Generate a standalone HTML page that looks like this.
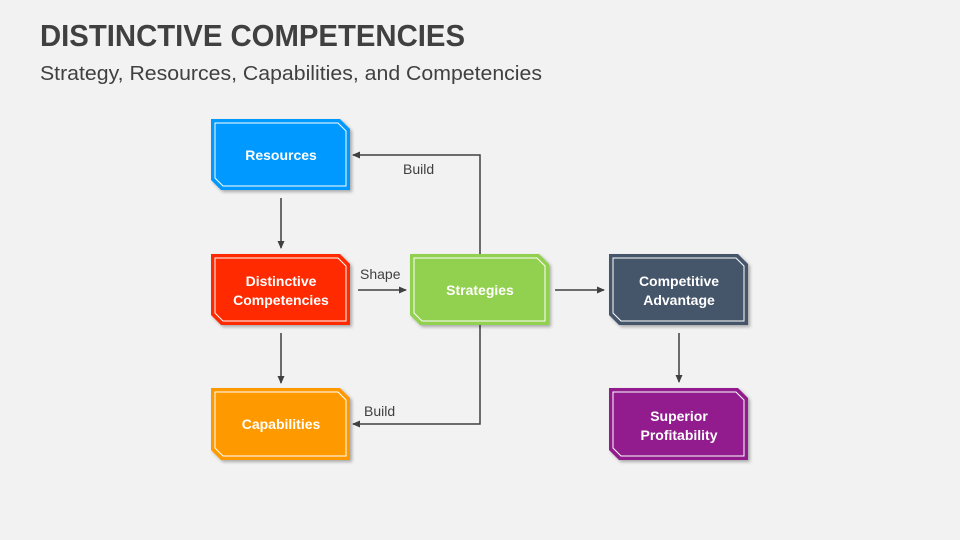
<!DOCTYPE html>
<html><head><meta charset="utf-8"><style>
html,body{margin:0;padding:0;background:#f2f2f2;}
svg{display:block;font-family:"Liberation Sans",sans-serif;}
</style></head><body>
<svg width="960" height="540" viewBox="0 0 960 540" xmlns="http://www.w3.org/2000/svg">
<defs>
<marker id="a" markerWidth="8" markerHeight="8" refX="7" refY="4" orient="auto" markerUnits="userSpaceOnUse"><path d="M0,0.5 L8,4 L0,7.5 Z" fill="#404040"/></marker>
<filter id="s" x="-10%" y="-10%" width="130%" height="130%"><feDropShadow dx="2" dy="2" stdDeviation="1.5" flood-color="#000" flood-opacity="0.3"/></filter>
</defs>
<rect width="960" height="540" fill="#f2f2f2"/>
<text x="40" y="46" font-size="31" font-weight="bold" fill="#404040" textLength="425" lengthAdjust="spacingAndGlyphs">DISTINCTIVE COMPETENCIES</text>
<text x="40" y="80" font-size="20" fill="#404040" textLength="502" lengthAdjust="spacingAndGlyphs">Strategy, Resources, Capabilities, and Competencies</text>

<g stroke="#404040" stroke-width="1.5" fill="none">
<line x1="281" y1="198" x2="281" y2="248" marker-end="url(#a)"/>
<line x1="281" y1="333" x2="281" y2="383" marker-end="url(#a)"/>
<line x1="358" y1="290" x2="406" y2="290" marker-end="url(#a)"/>
<line x1="555" y1="290" x2="604" y2="290" marker-end="url(#a)"/>
<line x1="679" y1="333" x2="679" y2="382" marker-end="url(#a)"/>
<polyline points="480,254 480,155 353,155" marker-end="url(#a)"/>
<polyline points="480,325 480,424 353,424" marker-end="url(#a)"/>
</g>
<g font-size="14" fill="#404040">
<text x="403" y="174">Build</text>
<text x="360" y="279">Shape</text>
<text x="364" y="416">Build</text>
</g>

<g font-size="14" font-weight="bold" fill="#fff" text-anchor="middle">
<!-- box template: x,y,w=139,h=71 -->
<g transform="translate(211,119)">
<polygon points="0,0 129,0 139,10 139,71 10,71 0,61" fill="#0099ff" filter="url(#s)"/>
<polygon points="4,4 127,4 135,12 135,67 12,67 4,59" fill="none" stroke="#fff" stroke-width="1"/>
<text x="70" y="41">Resources</text></g>

<g transform="translate(211,254)">
<polygon points="0,0 129,0 139,10 139,71 10,71 0,61" fill="#ff2a00" filter="url(#s)"/>
<polygon points="4,4 127,4 135,12 135,67 12,67 4,59" fill="none" stroke="#fff" stroke-width="1"/>
<text x="70" y="32">Distinctive</text><text x="70" y="51">Competencies</text></g>

<g transform="translate(211,388)">
<polygon points="0,0 129,0 139,10 139,72 10,72 0,62" fill="#ff9900" filter="url(#s)"/>
<polygon points="4,4 127,4 135,12 135,68 12,68 4,60" fill="none" stroke="#fff" stroke-width="1"/>
<text x="70" y="41">Capabilities</text></g>

<g transform="translate(410,254)">
<polygon points="0,0 129,0 139,10 139,71 10,71 0,61" fill="#92d050" filter="url(#s)"/>
<polygon points="4,4 127,4 135,12 135,67 12,67 4,59" fill="none" stroke="#fff" stroke-width="1"/>
<text x="70" y="41">Strategies</text></g>

<g transform="translate(609,254)">
<polygon points="0,0 129,0 139,10 139,71 10,71 0,61" fill="#44546a" filter="url(#s)"/>
<polygon points="4,4 127,4 135,12 135,67 12,67 4,59" fill="none" stroke="#fff" stroke-width="1"/>
<text x="70" y="32">Competitive</text><text x="70" y="51">Advantage</text></g>

<g transform="translate(609,388)">
<polygon points="0,0 129,0 139,10 139,72 10,72 0,62" fill="#921e8e" filter="url(#s)"/>
<polygon points="4,4 127,4 135,12 135,68 12,68 4,60" fill="none" stroke="#fff" stroke-width="1"/>
<text x="70" y="33">Superior</text><text x="70" y="52">Profitability</text></g>
</g>
</svg>
</body></html>
